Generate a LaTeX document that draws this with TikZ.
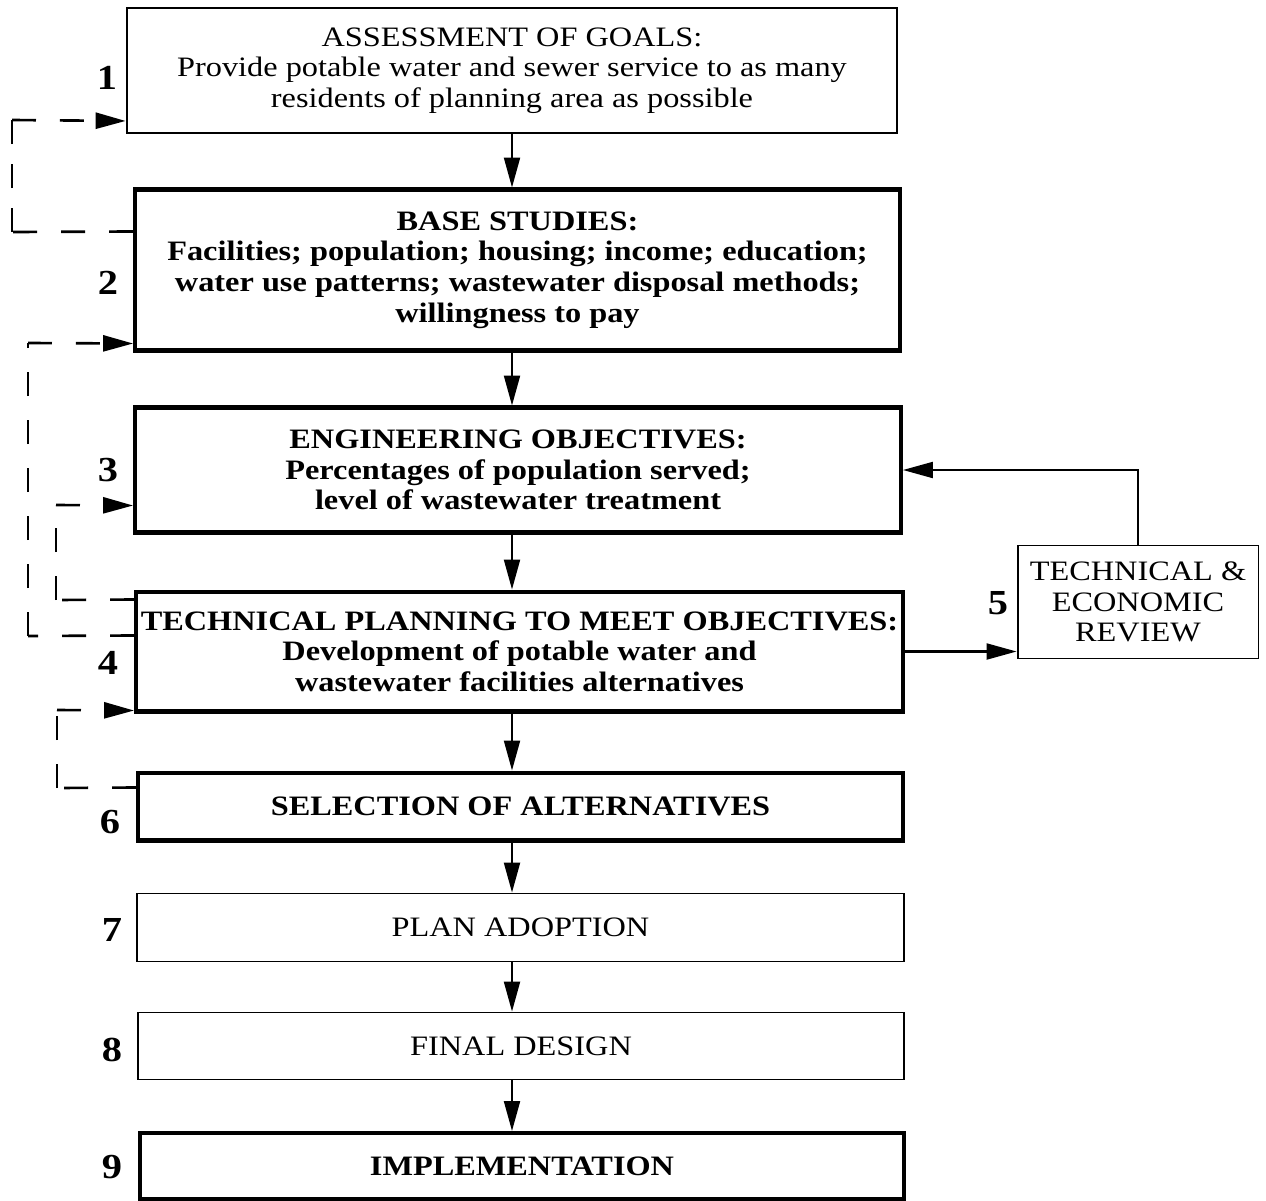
\documentclass[tikz,border=0pt]{standalone}
\usepackage{fontspec}
\setmainfont{Liberation Serif}[FakeStretch=1.15]
\usetikzlibrary{arrows.meta,calc}
\newcommand\mainsize{\fontsize{16}{17.4}\selectfont}
\newcommand\numsize{\fontsize{20}{22}\selectfont}
\begin{document}
\begin{tikzpicture}[x=0.02cm,y=-0.02cm,
  box/.style={draw, line width=1.1pt, align=center, inner sep=0pt, font=\mainsize},
  tbox/.style={box, line width=2.3pt, font=\mainsize\bfseries},
  tip/.style={-{Triangle[length=0.6cm,width=0.32cm]}},
  arr/.style={line width=1.2pt, tip},
  dsh/.style={line width=1.5pt, dash pattern=on 0.48cm off 0.48cm},
  num/.style={font=\numsize\bfseries, inner sep=0pt}]
\useasboundingbox (0,0) rectangle (1266,1200);
\fill[white] (0,0) rectangle (1266,1200);

\node[box, minimum width=15.42cm, minimum height=2.5cm] (b1) at (512,70.5)
  {ASSESSMENT OF GOALS:\\ Provide potable water and sewer service to as many\\ residents of planning area as possible};
\node[tbox, minimum width=15.3cm, minimum height=3.22cm] (b2) at (517.5,270)
  {BASE STUDIES:\\ Facilities; population; housing; income; education;\\ water use patterns; wastewater disposal methods;\\ willingness to pay};
\node[tbox, minimum width=15.32cm, minimum height=2.5cm] (b3) at (518,470)
  {ENGINEERING OBJECTIVES:\\ Percentages of population served;\\ level of wastewater treatment};
\node[tbox, minimum width=15.34cm, minimum height=2.4cm] (b4) at (519.5,651.5)
  {TECHNICAL PLANNING TO MEET OBJECTIVES:\\ Development of potable water and\\ wastewater facilities alternatives};
\node[box, minimum width=4.82cm, minimum height=2.26cm] (b5) at (1138,602)
  {TECHNICAL \&\\ ECONOMIC\\ REVIEW};
\node[tbox, minimum width=15.3cm, minimum height=1.36cm] (b6) at (520.5,806.5)
  {SELECTION OF ALTERNATIVES};
\node[box, minimum width=15.34cm, minimum height=1.36cm] (b7) at (520.5,927.5)
  {PLAN ADOPTION};
\node[box, minimum width=15.32cm, minimum height=1.34cm] (b8) at (521,1046)
  {FINAL DESIGN};
\node[tbox, minimum width=15.3cm, minimum height=1.32cm] (b9) at (522,1166)
  {IMPLEMENTATION};

\node[num] (n1) at (107,78) {1};
\node[num] (n2) at (108,283) {2};
\node[num] (n3) at (108,470) {3};
\node[num] (n4) at (108,663) {4};
\node[num] (n5) at (998,603) {5};
\node[num] (n6) at (110,822) {6};
\node[num] (n7) at (112,930) {7};
\node[num] (n8) at (112,1050) {8};
\node[num] (n9) at (112,1167) {9};

% main flow
\draw[arr] (b1.south) -- (b2.north -| b1.south);
\draw[arr] (b2.south -| b1.south) -- (b3.north -| b1.south);
\draw[arr] (b3.south -| b1.south) -- (b4.north -| b1.south);
\draw[arr] (b4.south -| b1.south) -- (b6.north -| b1.south);
\draw[arr] (b6.south -| b1.south) -- (b7.north -| b1.south);
\draw[arr] (b7.south -| b1.south) -- (b8.north -| b1.south);
\draw[arr] (b8.south -| b1.south) -- (b9.north -| b1.south);
\draw[arr] (b4.east) -- (b4.east -| b5.west);
\draw[arr] (b5.north) |- (b3.east);

% feedback loops (dashed)
\coordinate (a0) at ($(b2.north west)+(0,44)$);
\coordinate (a1) at (12,232);
\coordinate (a2) at (12,120);
\coordinate (a3) at ($(b1.south west)+(0,-13)$);
\draw[dsh] (a0) -- (a1);
\draw[dsh, dash pattern=on 0.48cm off 0.4cm] (a1) -- (a2);
\draw[dsh, tip] (a2) -- (a3);

\coordinate (bb0) at ($(b4.north west)+(0,46)$);
\coordinate (bb1) at (28,636);
\coordinate (bb2) at (28,343);
\coordinate (bb3) at ($(b2.south west)+(0,-9)$);
\draw[dsh] (bb0) -- (bb1);
\draw[dsh] (bb1) -- (bb2);
\draw[dsh, tip] (bb2) -- (bb3);

\coordinate (c0) at ($(b4.north west)+(0,10)$);
\coordinate (c1) at (56,600);
\coordinate (c2) at (56,505);
\coordinate (c3) at ($(b3.south west)+(0,-29)$);
\draw[dsh] (c0) -- (c1);
\draw[dsh] (c1) -- (c2);
\draw[dsh, tip] (c2) -- (c3);

\coordinate (d0) at ($(b6.north west)+(0,17)$);
\coordinate (d1) at (57,788);
\coordinate (d2) at (57,710);
\coordinate (d3) at ($(b4.south west)+(0,-3)$);
\draw[dsh] (d0) -- (d1);
\draw[dsh] (d1) -- (d2);
\draw[dsh, tip] (d2) -- (d3);
\end{tikzpicture}
\end{document}
